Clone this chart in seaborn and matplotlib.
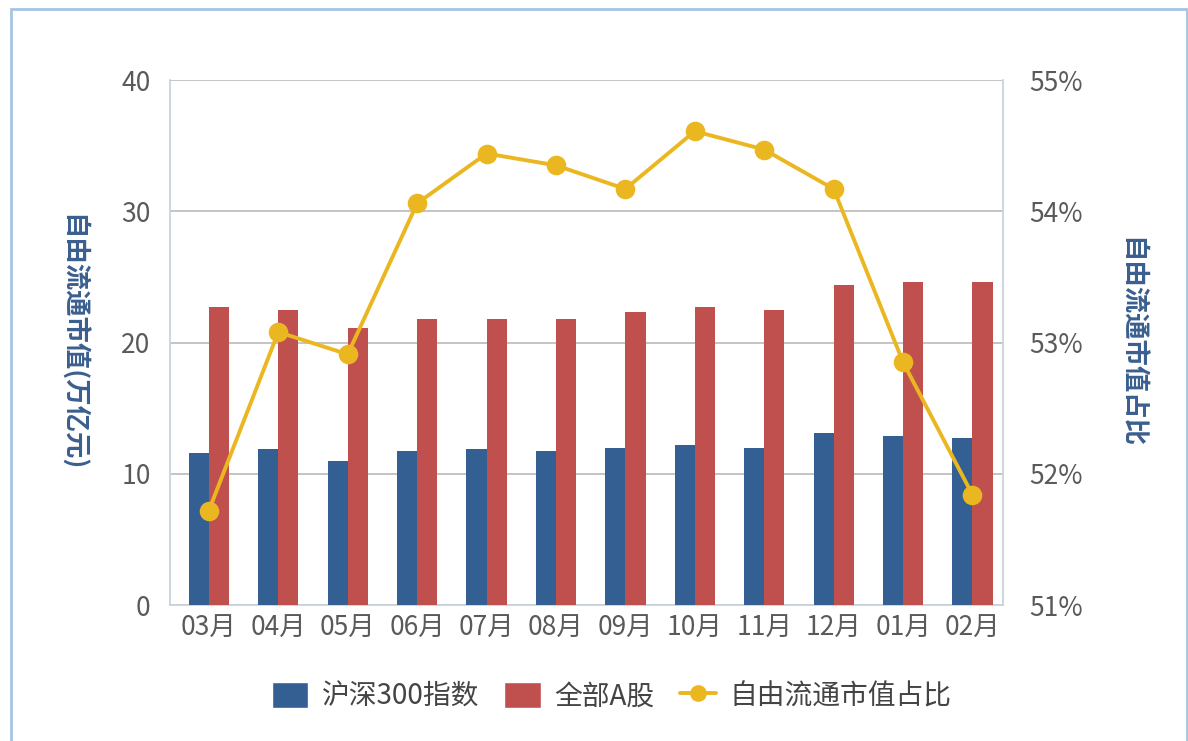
import numpy as np
import pandas as pd
import seaborn as sns
import matplotlib.pyplot as plt
from matplotlib.patches import Patch, Rectangle
from matplotlib.lines import Line2D
from matplotlib.ticker import FuncFormatter

months = ["03月", "04月", "05月", "06月", "07月", "08月",
          "09月", "10月", "11月", "12月", "01月", "02月"]
hs300 = [11.6, 11.9, 11.0, 11.7, 11.9, 11.7, 12.0, 12.2, 12.0, 13.1, 12.9, 12.7]
all_a = [22.7, 22.5, 21.1, 21.8, 21.8, 21.8, 22.3, 22.7, 22.5, 24.4, 24.6, 24.6]
ratio = [51.72, 53.08, 52.91, 54.06, 54.44, 54.35, 54.17, 54.61, 54.47, 54.17, 52.85, 51.84]

series_names = ["沪深300指数", "全部A股", "自由流通市值占比"]
colors = ["#335F92", "#C0504D", "#EBB721"]

bar_df = pd.DataFrame({"月份": months * 2,
                       "市值": hs300 + all_a,
                       "系列": [series_names[0]] * 12 + [series_names[1]] * 12})
line_df = pd.DataFrame({"月份": months, "占比": ratio})

sns.set_style("white")
plt.rcParams["font.family"] = ["Noto Sans CJK SC", "DejaVu Sans"]

fig = plt.figure(figsize=(11.88, 7.41), dpi=100)
fig.patches.append(Rectangle((0.009, -0.01), 0.99, 0.998, transform=fig.transFigure,
                             fill=False, edgecolor="#A6C4E4", linewidth=2))
ax = fig.add_axes([0.1431, 0.1835, 0.7012, 0.7085])

sns.barplot(data=bar_df, x="月份", y="市值", hue="系列", palette=colors[:2],
            width=0.58, gap=0, saturation=1, ax=ax, legend=False, zorder=3,
            linewidth=0, edgecolor="none")
ax.set_ylim(0, 40)
ax.set_yticks([0, 10, 20, 30, 40])
ax.grid(axis="y", color="#BFBFBF", linewidth=1.3, zorder=0)
ax.set_axisbelow(True)
for s in ["left", "bottom", "right"]:
    ax.spines[s].set_color("#C9D2DE")
    ax.spines[s].set_linewidth(1.3)
ax.spines["top"].set_visible(False)
ax.tick_params(axis="y", labelsize=19, colors="#5A5A5A", length=0, pad=14)
ax.tick_params(axis="x", labelsize=19, labelcolor="#5A5A5A", length=6,
               color="#C9D2DE", direction="out", pad=1)
ax.set_xlabel("")
ax.set_ylabel("自由流通市值(万亿元)", fontsize=19, fontweight="bold",
              color="#3A5F8F", rotation=270, labelpad=36, va="center")

ax2 = ax.twinx()
sns.pointplot(data=line_df, x="月份", y="占比", color=colors[2], markers="o",
              markersize=12, linewidth=2.8, ax=ax2, zorder=5)
ax2.set_ylim(51, 55)
ax2.set_yticks([51, 52, 53, 54, 55])
ax2.yaxis.set_major_formatter(FuncFormatter(lambda v, p: f"{v:.0f}%"))
for s in ax2.spines.values():
    s.set_visible(False)
ax2.tick_params(axis="y", labelsize=19, colors="#5A5A5A", length=0, pad=19)
ax2.set_xlabel("")
ax2.set_ylabel("自由流通市值占比", fontsize=19, fontweight="bold",
               color="#3A5F8F", rotation=270, labelpad=34, va="center")
ax.set_xlim(-0.56, 11.44)
ax2.set_xlim(-0.56, 11.44)

handles = [Patch(facecolor=colors[0]), Patch(facecolor=colors[1]),
           Line2D([], [], color=colors[2], marker="o", markersize=11, linewidth=2.8)]
fig.legend(handles, series_names, loc="center", bbox_to_anchor=(0.515, 0.06), ncol=3,
           frameon=False, fontsize=20, labelcolor="#444444", handlelength=1.3,
           handleheight=1.1, columnspacing=0.9, handletextpad=0.5)

plt.savefig("out.png", dpi=100)
